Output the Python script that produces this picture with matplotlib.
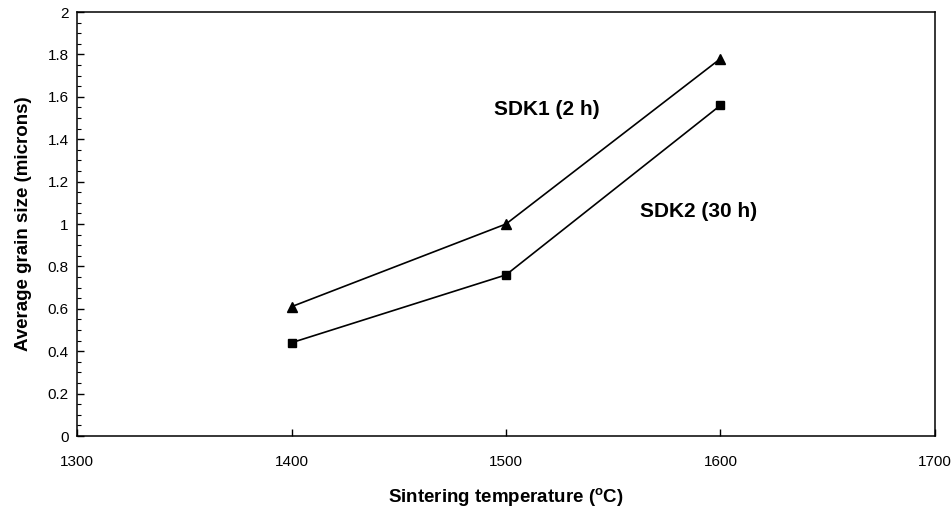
import matplotlib
matplotlib.use("Agg")
import matplotlib.pyplot as plt
from matplotlib.ticker import MultipleLocator

plt.rcParams['font.family'] = ['Liberation Sans', 'DejaVu Sans']

temps = [1400, 1500, 1600]
sdk1_2h = [0.61, 1.00, 1.78]
sdk2_30h = [0.44, 0.76, 1.56]
x_ticks = [1300, 1400, 1500, 1600, 1700]
y_ticks = [0, 0.2, 0.4, 0.6, 0.8, 1, 1.2, 1.4, 1.6, 1.8, 2]

fig = plt.figure(figsize=(9.53, 5.14), dpi=100)
ax = fig.add_axes([77/953, 1 - 436/514, (935 - 77)/953, (436 - 12)/514])

ax.plot(temps, sdk1_2h, color='black', lw=1.2, marker='^', ms=7, mfc='black', mec='black')
ax.plot(temps, sdk2_30h, color='black', lw=1.2, marker='s', ms=6, mfc='black', mec='black')

ax.set_xlim(1300, 1700)
ax.set_ylim(0, 2)
ax.set_xticks(x_ticks)
ax.set_xticklabels([str(t) for t in x_ticks])
ax.set_yticks(y_ticks)
ax.set_yticklabels([f"{v:g}" for v in y_ticks])
ax.yaxis.set_minor_locator(MultipleLocator(0.05))

ax.tick_params(axis='both', which='major', direction='in', length=5, width=1,
               labelsize=11, colors='black')
ax.tick_params(axis='x', which='major', pad=14)
ax.tick_params(axis='y', which='major', pad=6)
ax.tick_params(axis='y', which='minor', direction='in', length=3, width=0.8)

for sp in ax.spines.values():
    sp.set_linewidth(1.1)
    sp.set_color('black')

ax.set_xlabel('Sintering temperature ($\\mathregular{^{o}}$C)', fontsize=13.5,
              fontweight='bold', labelpad=12)
ax.set_ylabel('Average grain size (microns)', fontsize=13.5, fontweight='bold',
              labelpad=11)

ax.text(1519, 1.54, 'SDK1 (2 h)', fontsize=15, fontweight='bold',
        ha='center', va='center')
ax.text(1590, 1.06, 'SDK2 (30 h)', fontsize=15, fontweight='bold',
        ha='center', va='center')

fig.savefig('out.png', dpi=100)
